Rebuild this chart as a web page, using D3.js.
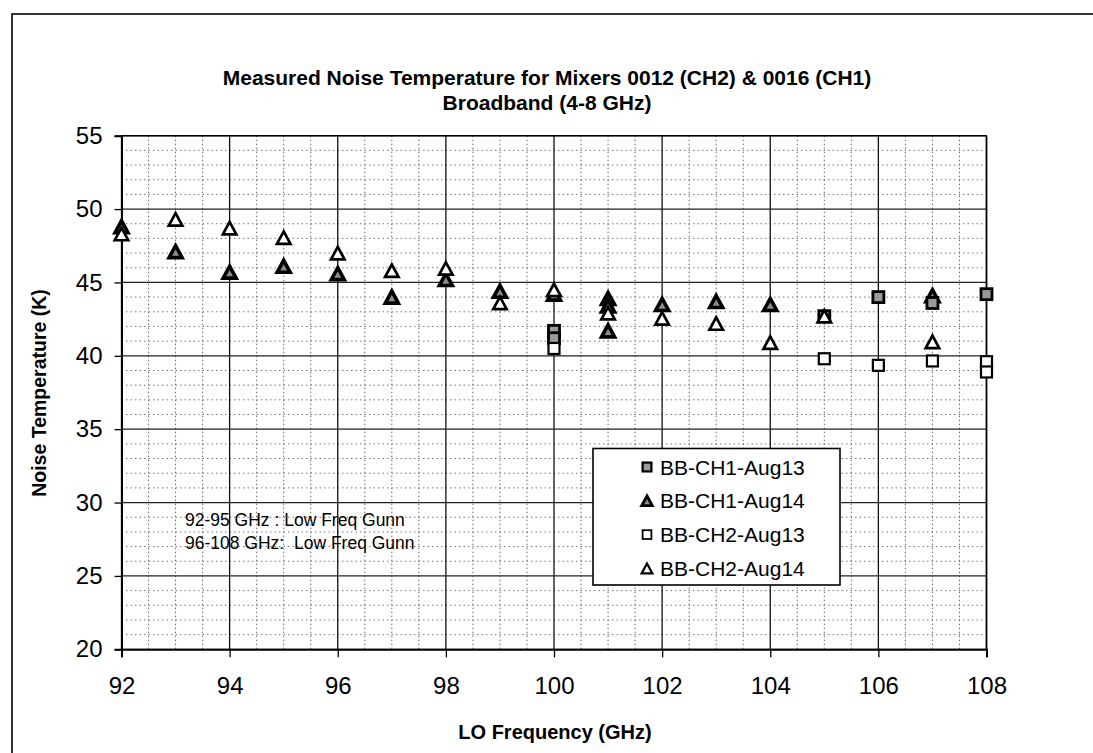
<!DOCTYPE html>
<html>
<head>
<meta charset="utf-8">
<script src="https://cdn.jsdelivr.net/npm/d3@7"></script>
<style>
  html, body { margin: 0; padding: 0; background: #fff; }
  svg { display: block; }
  text { font-family: Arial, "Liberation Sans", sans-serif; fill: #000; }
</style>
</head>
<body>
<svg id="chart" width="1093" height="753"></svg>
<script>
// Measured noise temperature, LO frequency (GHz) vs temperature (K)
const ch1Aug13Freq = [100, 100, 105, 106, 107, 108];
const ch1Aug13Temp = [41.7, 41.2, 42.7, 44.0, 43.6, 44.2];

const ch1Aug14Freq = [92, 93, 94, 95, 96, 97, 98, 99, 100, 101, 101, 101, 102, 103, 104, 107];
const ch1Aug14Temp = [48.8, 47.1, 45.7, 46.1, 45.6, 44.0, 45.2, 44.4, 44.2, 43.9, 43.4, 41.7, 43.5, 43.7, 43.5, 44.1];

const ch2Aug13Freq = [100, 105, 106, 107, 108, 108];
const ch2Aug13Temp = [40.5, 39.8, 39.35, 39.65, 39.6, 38.9];

const ch2Aug14Freq = [92, 93, 94, 95, 96, 97, 98, 99, 100, 101, 102, 103, 104, 105, 107];
const ch2Aug14Temp = [48.3, 49.3, 48.7, 48.05, 47.0, 45.8, 45.95, 43.6, 44.5, 42.9, 42.55, 42.2, 40.9, 42.7, 40.95];

const seriesNames = ["BB-CH1-Aug13", "BB-CH1-Aug14", "BB-CH2-Aug13", "BB-CH2-Aug14"];
const xTickValues = [92, 94, 96, 98, 100, 102, 104, 106, 108];
const yTickValues = [20, 25, 30, 35, 40, 45, 50, 55];
const titleLines = ["Measured Noise Temperature for Mixers 0012 (CH2) & 0016 (CH1)", "Broadband (4-8 GHz)"];
const noteLines = ["92-95 GHz : Low Freq Gunn", "96-108 GHz:  Low Freq Gunn"];

const svg = d3.select("#chart");
const W = 1093, H = 753;

// outer chart frame
svg.append("rect").attr("x", 12).attr("y", 14).attr("width", W + 20).attr("height", H + 20)
  .attr("fill", "#fff").attr("stroke", "#000").attr("stroke-width", 1.6);

const x = d3.scaleLinear().domain([92, 108]).range([121.5, 986.5]);
const y = d3.scaleLinear().domain([20, 55]).range([649.3, 135.7]);

const plot = svg.append("g");

// minor grid (dotted)
const minorX = d3.range(92, 108.01, 0.5).filter(v => v % 2 !== 0);
const minorY = d3.range(20, 55.01, 1).filter(v => v % 5 !== 0);
plot.selectAll("line.mx").data(minorX).join("line")
  .attr("x1", d => x(d)).attr("x2", d => x(d)).attr("y1", y(55)).attr("y2", y(20))
  .attr("stroke", "#666").attr("stroke-width", 1).attr("stroke-dasharray", "1.5,2.5");
plot.selectAll("line.my").data(minorY).join("line")
  .attr("x1", x(92)).attr("x2", x(108)).attr("y1", d => y(d)).attr("y2", d => y(d))
  .attr("stroke", "#777").attr("stroke-width", 1).attr("stroke-dasharray", "1.5,3");

// major grid
plot.selectAll("line.MX").data(xTickValues).join("line")
  .attr("x1", d => x(d)).attr("x2", d => x(d)).attr("y1", y(55)).attr("y2", y(20))
  .attr("stroke", "#111").attr("stroke-width", 1.3);
plot.selectAll("line.MY").data(yTickValues).join("line")
  .attr("x1", x(92)).attr("x2", x(108)).attr("y1", d => y(d)).attr("y2", d => y(d))
  .attr("stroke", "#222").attr("stroke-width", 1.3);

// axes
const xAxis = d3.axisBottom(x).tickValues(xTickValues).tickSize(8).tickPadding(14).tickFormat(d3.format("d"));
const yAxis = d3.axisLeft(y).tickValues(yTickValues).tickSize(7).tickPadding(12).tickFormat(d3.format("d"));
const gx = svg.append("g").attr("transform", `translate(0,${y(20)})`).call(xAxis);
const gy = svg.append("g").attr("transform", `translate(${x(92)},0)`).call(yAxis);
[gx, gy].forEach(g => {
  g.select(".domain").attr("stroke", "#000").attr("stroke-width", 2);
  g.selectAll(".tick line").attr("stroke", "#000").attr("stroke-width", 1.3);
  g.selectAll(".tick text").attr("font-size", 24).attr("fill", "#000")
    .attr("font-family", "Arial, 'Liberation Sans', sans-serif");
});
gx.selectAll(".tick text").attr("dy", "0.95em");
// plot border top/right
svg.append("line").attr("x1", x(92)).attr("x2", x(108)).attr("y1", y(55)).attr("y2", y(55))
  .attr("stroke", "#000").attr("stroke-width", 1.6);
svg.append("line").attr("x1", x(108)).attr("x2", x(108)).attr("y1", y(55)).attr("y2", y(20))
  .attr("stroke", "#000").attr("stroke-width", 1.6);

// titles
svg.append("text").attr("x", 547).attr("y", 85).attr("text-anchor", "middle")
  .attr("font-size", 21).attr("font-weight", "bold").text(titleLines[0]);
svg.append("text").attr("x", 547).attr("y", 110).attr("text-anchor", "middle")
  .attr("font-size", 21).attr("font-weight", "bold").text(titleLines[1]);
svg.append("text").attr("transform", "translate(46,393) rotate(-90)").attr("text-anchor", "middle")
  .attr("font-size", 19.5).attr("font-weight", "bold").text("Noise Temperature (K)");
svg.append("text").attr("x", 555).attr("y", 739).attr("text-anchor", "middle")
  .attr("font-size", 20).attr("font-weight", "bold").text("LO Frequency (GHz)");

// note
noteLines.forEach((t, i) => {
  svg.append("text").attr("x", 185).attr("y", 526 + i * 23).attr("font-size", 17.5)
    .style("white-space", "pre").text(t);
});

// marker shapes
function triPath(w, h) {
  return `M0,${-h / 2}L${w / 2},${h / 2}L${-w / 2},${h / 2}Z`;
}
const styles = {
  ch1Aug13: { shape: "square", size: 11, fill: "#9a9a9a", sw: 2.8 },
  ch1Aug14: { shape: "tri", size: 13, fill: "#8c8c8c", sw: 3.6 },
  ch2Aug13: { shape: "square", size: 11, fill: "#fff", sw: 2.2 },
  ch2Aug14: { shape: "tri", size: 13.5, fill: "#fff", sw: 2.7 }
};
function drawMarker(g, st, scale) {
  const s = st.size * scale;
  if (st.shape === "square") {
    return g.append("rect").attr("x", -s / 2).attr("y", -s / 2).attr("width", s).attr("height", s)
      .attr("fill", st.fill).attr("stroke", "#000").attr("stroke-width", st.sw * scale);
  }
  return g.append("path").attr("d", triPath(s, s * 0.92))
    .attr("fill", st.fill).attr("stroke", "#000").attr("stroke-width", st.sw * scale)
    .attr("stroke-linejoin", "miter");
}

const seriesDraw = [
  { key: "ch1Aug14", fx: ch1Aug14Freq, ty: ch1Aug14Temp },
  { key: "ch1Aug13", fx: ch1Aug13Freq, ty: ch1Aug13Temp },
  { key: "ch2Aug13", fx: ch2Aug13Freq, ty: ch2Aug13Temp },
  { key: "ch2Aug14", fx: ch2Aug14Freq, ty: ch2Aug14Temp }
];
seriesDraw.forEach(s => {
  const pts = s.fx.map((f, i) => [f, s.ty[i]]);
  const g = svg.append("g");
  pts.forEach(p => {
    const m = g.append("g").attr("transform", `translate(${x(p[0])},${y(p[1])})`);
    drawMarker(m, styles[s.key], 1);
  });
});

// legend
const lg = svg.append("g");
lg.append("rect").attr("x", 593).attr("y", 448.5).attr("width", 247).attr("height", 136.5)
  .attr("fill", "#fff").attr("stroke", "#000").attr("stroke-width", 1.6);
const legendKeys = ["ch1Aug13", "ch1Aug14", "ch2Aug13", "ch2Aug14"];
legendKeys.forEach((k, i) => {
  const cy = 467 + i * 33.8;
  const m = lg.append("g").attr("transform", `translate(647,${cy})`);
  drawMarker(m, styles[k], 0.8);
  lg.append("text").attr("x", 660).attr("y", cy + 7.5).attr("font-size", 21).text(seriesNames[i]);
});
</script>
</body>
</html>
